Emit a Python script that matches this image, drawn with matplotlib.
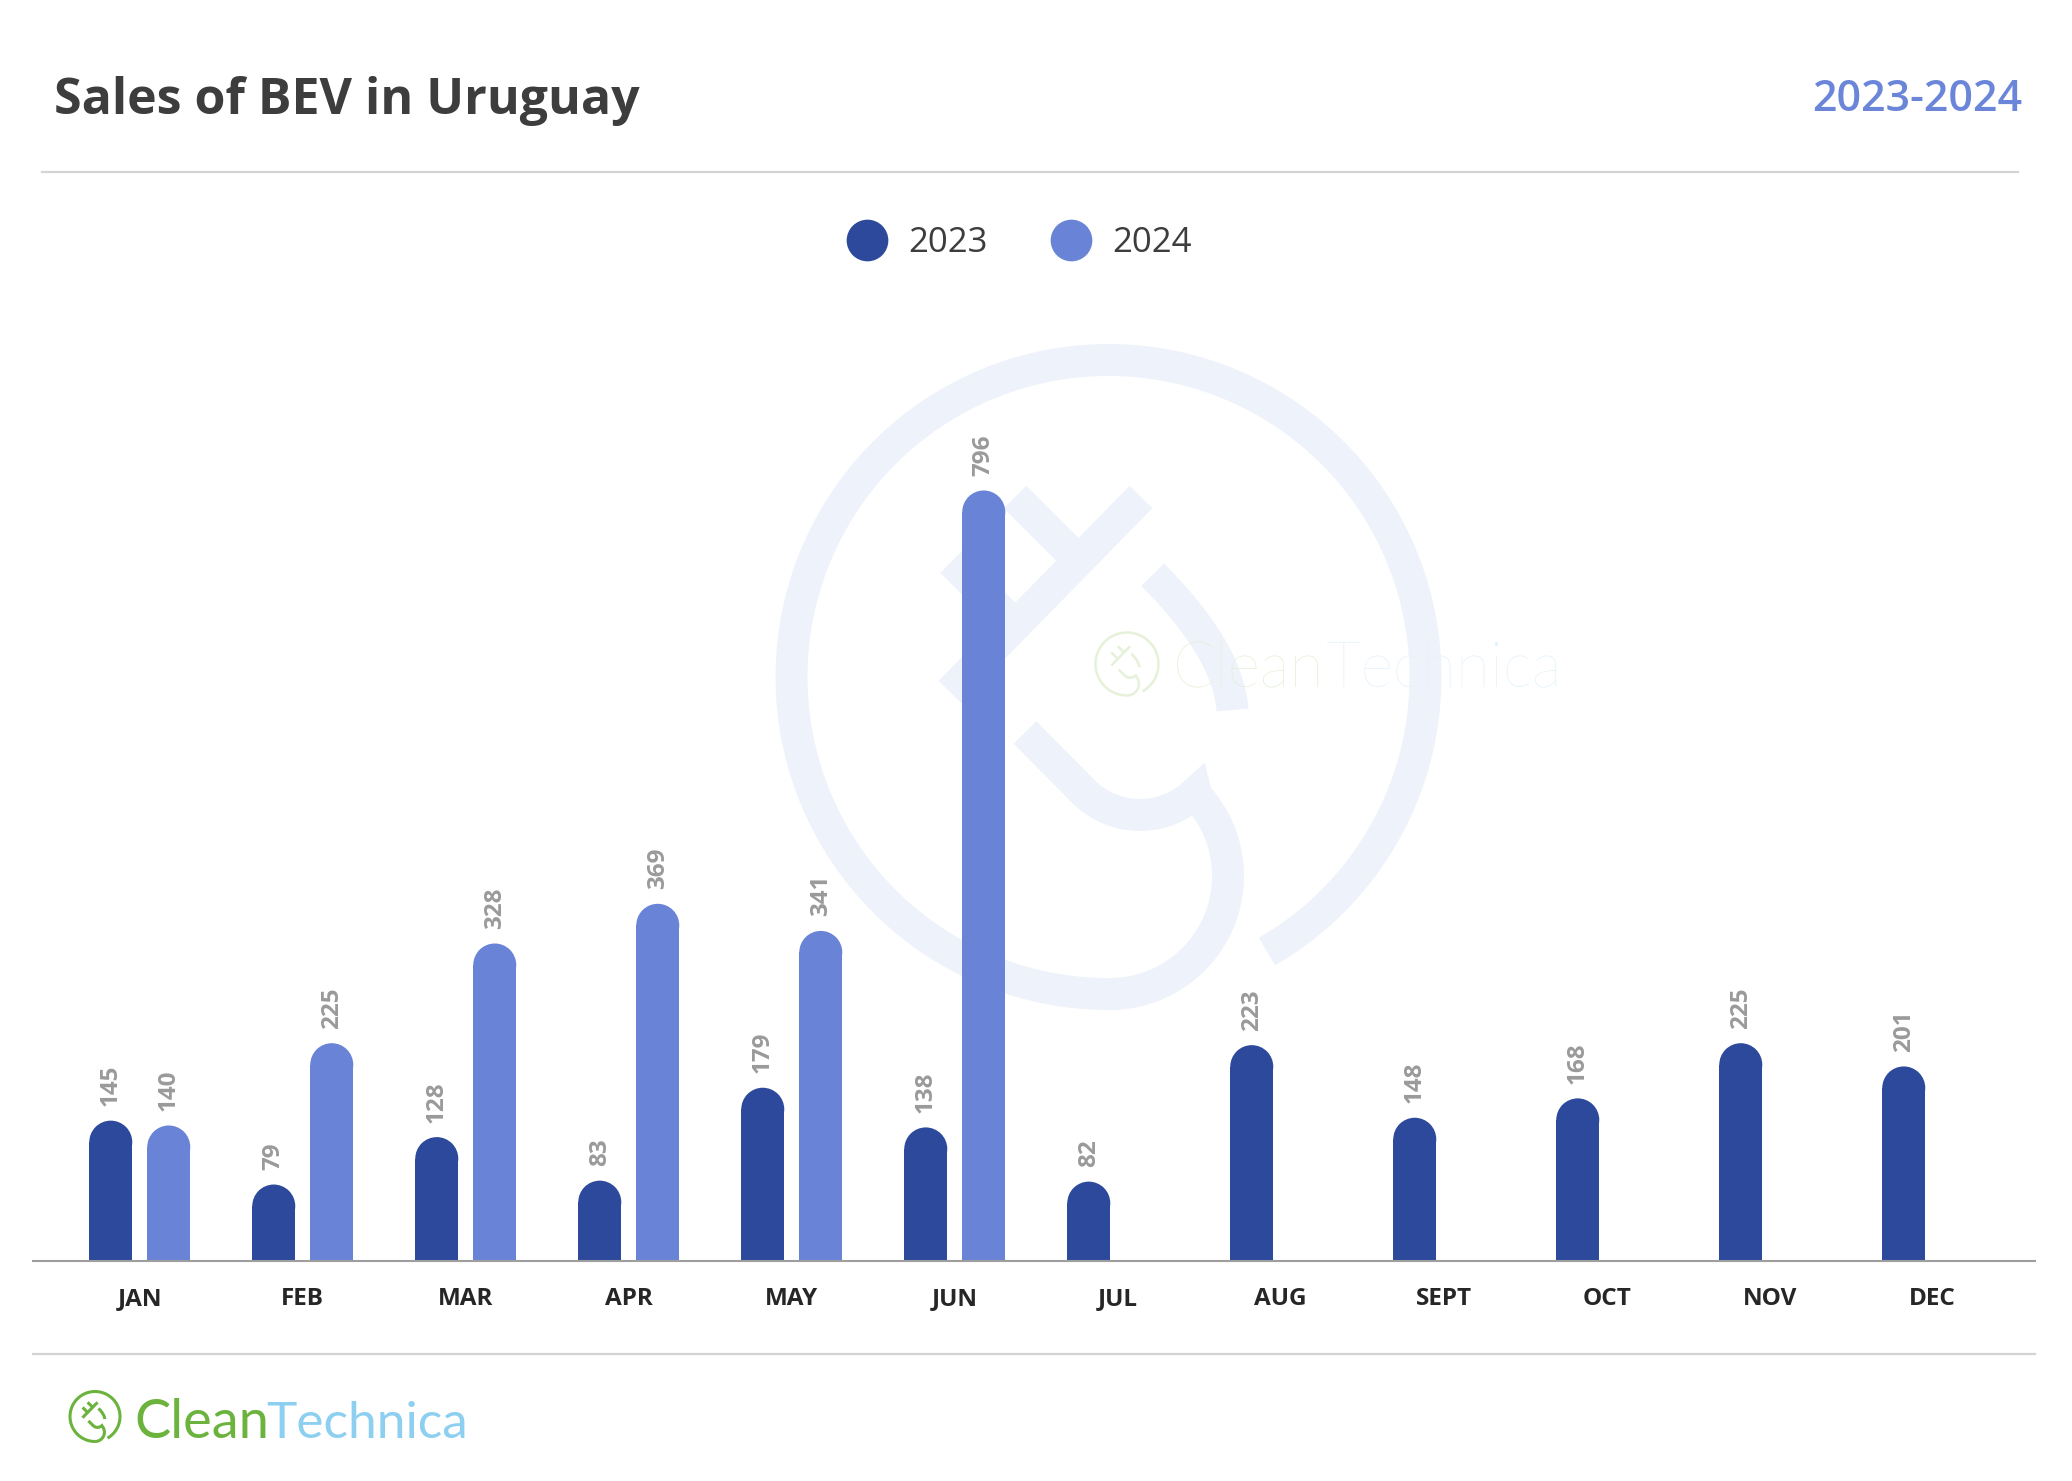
import numpy as np
import matplotlib
matplotlib.use('Agg')
import matplotlib.pyplot as plt
from matplotlib.patches import Ellipse
from matplotlib.lines import Line2D

# datos
months = ['JAN', 'FEB', 'MAR', 'APR', 'MAY', 'JUN', 'JUL', 'AUG', 'SEPT', 'OCT', 'NOV', 'DEC']
sales_2023 = [145, 79, 128, 83, 179, 138, 82, 223, 148, 168, 225, 201]
sales_2024 = [140, 225, 328, 369, 341, 796]
series_names = ['2023', '2024']

c2023 = '#2d499b'
c2024 = '#6983d7'
W, H = 2072, 1481

fig = plt.figure(figsize=(W / 100, H / 100), dpi=100)
fig.patch.set_facecolor('white')

# capa de fondo en pixeles (marca de agua, titulo, logo)
bg = fig.add_axes([0, 0, 1, 1], zorder=0)
bg.set_xlim(0, W)
bg.set_ylim(H, 0)
bg.axis('off')


def arc_pts(cx, cy, r, a0, a1, n=200):
    t = np.radians(np.linspace(a0, a1, n))
    return cx + r * np.cos(t), cy - r * np.sin(t)


def draw_plug(ax, cx, cy, s, color, lw):
    # logo de CleanTechnica, geometria relativa al centro del anillo
    def P(x, y):
        return cx + (x - 1108.5) * s, cy + (y - 677) * s
    kw = dict(color=color, lw=lw, solid_capstyle='butt', solid_joinstyle='miter')
    x, y = arc_pts(cx, cy, 317 * s, -60, 272)
    ax.plot(x, y, **kw)
    # cable y clavijas
    for (x0, y0), (x1, y1) in [((1141, 497), (950, 692)),
                               ((1015, 497), (1078, 560)),
                               ((951.5, 561.5), (1014, 624))]:
        a, b = P(x0, y0)
        c, d = P(x1, y1)
        ax.plot([a, c], [b, d], **kw)
    # tercera clavija curva
    t = np.linspace(0, 1, 50)[:, None]
    p0, p1, p2 = np.array(P(1152.6, 574.8)), np.array(P(1228, 650)), np.array(P(1232.5, 710))
    q = (1 - t) ** 2 * p0 + 2 * (1 - t) * t * p1 + t ** 2 * p2
    ax.plot(q[:, 0], q[:, 1], **kw)
    # U + gancho
    sx, sy = P(1025, 732.5)
    ux, uy = arc_pts(*P(1140, 735), 80 * s, -134.5, -46, 60)
    hx, hy = arc_pts(*P(1110, 876), 118 * s, 43, -88, 100)
    ax.plot(np.r_[sx, ux, hx], np.r_[sy, uy, hy], **kw)


# marca de agua grande
draw_plug(bg, 1108.5, 677, 1.0, '#eef2fa', 23)
draw_plug(bg, 1127, 664, 31.5 / 317, '#e6f1da', 1.8)
bg.text(1173, 688, 'Clean', fontsize=45, family='Lato', fontweight='light',
        color='#e3efd5', ha='left', va='baseline')
bg.text(1325, 688, 'Technica', fontsize=45, family='Lato', fontweight='light',
        color='#e2f2fa', ha='left', va='baseline')

# titulo
bg.text(54, 114, 'Sales of BEV in Uruguay', fontsize=36, family='Open Sans',
        fontweight='bold', color='#3d3d3d', ha='left', va='baseline')
bg.text(2022, 111, '2023-2024', fontsize=31, family='Open Sans',
        fontweight='semibold', color='#6b86d9', ha='right', va='baseline')

# lineas separadoras
bg.plot([42, 2018], [172, 172], color='#d4d4d4', lw=1.6)
bg.plot([33, 2035], [1354, 1354], color='#d4d4d4', lw=1.6)

# logo inferior
draw_plug(bg, 95, 1416.5, 25 / 317, '#6cb33e', 2.2)
bg.text(134, 1438, 'Clean', fontsize=39, family='Lato', fontweight='normal',
        color='#6cb33e', ha='left', va='baseline')
bg.text(266, 1438, 'Technica', fontsize=37, family='Lato', fontweight='normal',
        color='#8ccff0', ha='left', va='baseline')

# grafico principal
base_px = 1261
top_px = 260
ax = fig.add_axes([33 / W, (H - base_px) / H, (2035 - 33) / W, (base_px - top_px) / H], zorder=1)
ax.patch.set_alpha(0)
px_per_unit = 0.968
ymax = (base_px - top_px) / px_per_unit
group_px = 163
ax.set_xlim(-0.655, -0.655 + (2035 - 33) / group_px)
ax.set_ylim(0, ymax)

bw = 43 / group_px
off = 29 / group_px
r = (43 / 2) / px_per_unit

x = np.arange(len(months))
for vals, dx, col in [(sales_2023, -off, c2023), (sales_2024, off, c2024)]:
    xs = x[:len(vals)] + dx
    vals = np.array(vals, dtype=float)
    ax.bar(xs, vals - r, width=bw, color=col, linewidth=0)
    for xi, v in zip(xs, vals):
        ax.add_patch(Ellipse((xi, v - r), bw, 2 * r, facecolor=col, edgecolor='none'))
        ax.annotate(f'{int(v)}', (xi, v), xytext=(0, 10.5), textcoords='offset points',
                    rotation=90, ha='center', va='bottom', fontsize=17.5,
                    family='Open Sans', fontweight='bold', color='#9a9a9a')

for s in ['top', 'right', 'left']:
    ax.spines[s].set_visible(False)
ax.spines['bottom'].set_color('#9e9e9e')
ax.spines['bottom'].set_linewidth(1.5)
ax.set_yticks([])
ax.set_xticks(x)
ax.set_xticklabels(months, fontsize=17.5, family='Open Sans', fontweight='bold', color='#262626')
ax.tick_params(axis='x', length=0, pad=19)

# leyenda
handles = [Line2D([], [], marker='o', ls='none', markersize=29, color=c)
           for c in (c2023, c2024)]
leg = fig.legend(handles, series_names, loc='center', ncol=2,
                 bbox_to_anchor=(1019 / W, 1 - 243 / H), frameon=False,
                 prop={'family': 'Open Sans', 'size': 25}, handlelength=1.2,
                 handletextpad=0.6, columnspacing=1.8)
for t in leg.get_texts():
    t.set_color('#3d3d3d')

fig.savefig('out.png', dpi=100, facecolor='white')
